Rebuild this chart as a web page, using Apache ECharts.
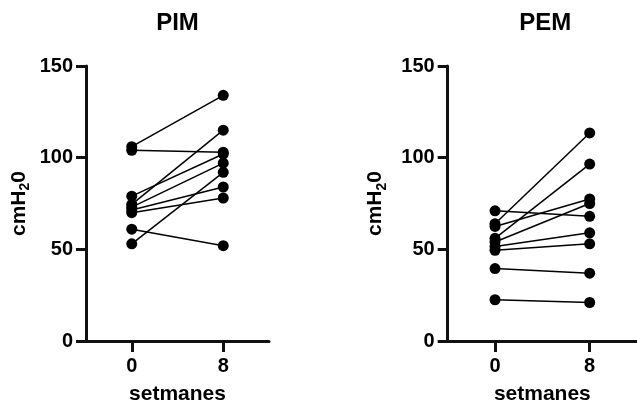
<!DOCTYPE html>
<html>
<head>
<meta charset="utf-8">
<script src="https://cdn.jsdelivr.net/npm/echarts@6/dist/echarts.min.js"></script>
<style>html,body{margin:0;padding:0;background:#fff}#c{width:637px;height:410px}</style>
</head>
<body>
<div id="c"></div>
<script>
// Data (cmH2O) per subject: week 0 -> week 8
var weeks = [0, 8];
var pimWeek0 = [106, 104, 79, 74.5, 73, 71.5, 70, 61, 53];
var pimWeek8 = [134, 103, 102, 115, 97, 84, 78, 52, 92];
var pemWeek0 = [71, 64, 62.5, 56, 54, 51.5, 49.5, 39.5, 22.5];
var pemWeek8 = [68, 113.5, 77.5, 96.5, 75, 59, 53, 37, 21];
var yTicks = [0, 50, 100, 150];
var titles = ['PIM', 'PEM'];

var FONT = '"Liberation Sans", Arial, sans-serif';
var chart = echarts.init(document.getElementById('c'), null, {renderer: 'canvas'});

function nameRich() {
  return {
    a: {fontSize: 21, fontWeight: 'bold', fontFamily: FONT, color: '#000'},
    b: {fontSize: 14, fontWeight: 'bold', fontFamily: FONT, color: '#000', padding: [12, 0, 0, 0]}
  };
}

var grids = [
  {left: 86, top: 66, width: 183, height: 275},
  {left: 447.7, top: 66, width: 195.3, height: 275}
];
var yNameGap = [54, 59];

var xAxes = [], yAxes = [], series = [], graphics = [];
[0, 1].forEach(function (g) {
  xAxes.push({
    gridIndex: g, type: 'value', min: -4, max: 12,
    name: 'setmanes', nameLocation: 'middle', nameGap: 43,
    nameTextStyle: {fontSize: 21, fontWeight: 'bold', fontFamily: FONT, color: '#000'},
    axisLine: {onZero: false, lineStyle: {color: '#111', width: 3}},
    axisTick: {show: true, length: 11, lineStyle: {color: '#111', width: 3}, customValues: weeks},
    axisLabel: {fontSize: 20, fontWeight: 'bold', fontFamily: FONT, color: '#000', margin: 15, customValues: weeks},
    splitLine: {show: false}
  });
  yAxes.push({
    gridIndex: g, type: 'value', min: yTicks[0], max: yTicks[yTicks.length - 1], interval: 50,
    name: '{a|cmH}{b|2}{a|0}', nameLocation: 'middle', nameGap: yNameGap[g], nameRotate: 90,
    nameTextStyle: {rich: nameRich()},
    axisLine: {show: true, onZero: false, lineStyle: {color: '#111', width: 3}},
    axisTick: {show: true, length: 10, lineStyle: {color: '#111', width: 3}},
    axisLabel: {fontSize: 20, fontWeight: 'bold', fontFamily: FONT, color: '#000', margin: 13},
    splitLine: {show: false}
  });
  graphics.push({
    type: 'text', left: 'center', top: 11,
    x: 0,
    style: {text: titles[g], font: 'bold 24px ' + FONT, fill: '#000', textAlign: 'center'},
    position: [grids[g].left + grids[g].width / 2 - 318.5 + (g === 0 ? 0 : -2), 0]
  });
});

function addSeries(g, w0, w8) {
  for (var i = 0; i < w0.length; i++) {
    series.push({
      type: 'line', xAxisIndex: g, yAxisIndex: g,
      data: [[weeks[0], w0[i]], [weeks[1], w8[i]]],
      symbol: 'circle', symbolSize: 11, showSymbol: true,
      lineStyle: {color: '#000', width: 1.5},
      itemStyle: {color: '#000'},
      animation: false, silent: true
    });
  }
}
addSeries(0, pimWeek0, pimWeek8);
addSeries(1, pemWeek0, pemWeek8);

chart.setOption({
  animation: false,
  backgroundColor: '#fff',
  graphic: [
    {type: 'text', x: grids[0].left + grids[0].width / 2, y: 11,
     style: {text: titles[0], font: 'bold 24px ' + FONT, fill: '#000', textAlign: 'center', textVerticalAlign: 'top'}},
    {type: 'text', x: grids[1].left + grids[1].width / 2, y: 11,
     style: {text: titles[1], font: 'bold 24px ' + FONT, fill: '#000', textAlign: 'center', textVerticalAlign: 'top'}}
  ],
  grid: grids,
  xAxis: xAxes,
  yAxis: yAxes,
  series: series
});
</script>
</body>
</html>
